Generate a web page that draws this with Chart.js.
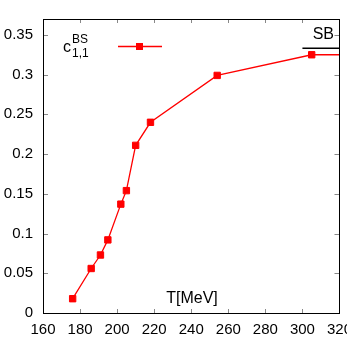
<!DOCTYPE html>
<html>
<head>
<meta charset="utf-8">
<script src="https://cdn.jsdelivr.net/npm/chart.js@4.4.1/dist/chart.umd.min.js"></script>
<style>
  html, body { margin: 0; padding: 0; background: #fff; overflow: hidden; }
  #wrap { position: relative; width: 360px; height: 347px; }
</style>
</head>
<body>
<div id="wrap"><canvas id="myChart" width="360" height="347"></canvas></div>
<script>
// c_{1,1}^{BS} vs temperature
var temps = [176, 186, 191, 195, 202, 205, 210, 218, 254, 305, 340];
var c11 = [0.018, 0.056, 0.073, 0.092, 0.137, 0.154, 0.211, 0.240, 0.299, 0.325, 0.325];
var sbTemps = [300, 320];
var sbValues = [1 / 3, 1 / 3];
var xTicks = [160, 180, 200, 220, 240, 260, 280, 300, 320];
var yTicks = [0, 0.05, 0.1, 0.15, 0.2, 0.25, 0.3, 0.35];

var font = 'Liberation Sans, Arial, sans-serif';

// frame, inward ticks on all four sides, labels
var framePlugin = {
  id: 'frame',
  afterDraw: function(chart) {
    var ctx = chart.ctx, a = chart.chartArea;
    var xs = chart.scales.x, ys = chart.scales.y;
    ctx.save();
    ctx.strokeStyle = '#888';
    ctx.lineWidth = 1;
    ctx.beginPath();
    xTicks.forEach(function(t) {
      var px = Math.round(xs.getPixelForValue(t)) + 0.5;
      ctx.moveTo(px, a.bottom); ctx.lineTo(px, a.bottom - 4);
      ctx.moveTo(px, a.top); ctx.lineTo(px, a.top + 4);
    });
    yTicks.forEach(function(t) {
      var py = Math.round(ys.getPixelForValue(t)) + 0.5;
      ctx.moveTo(a.left, py); ctx.lineTo(a.left + 5, py);
      ctx.moveTo(a.right, py); ctx.lineTo(a.right - 5, py);
    });
    ctx.stroke();

    ctx.strokeStyle = '#000';
    ctx.strokeRect(Math.round(a.left) + 0.5, Math.round(a.top) + 0.5,
      Math.round(a.right - a.left), Math.round(a.bottom - a.top));

    // legend
    ctx.fillStyle = '#000';
    ctx.textBaseline = 'alphabetic';
    ctx.textAlign = 'left';
    ctx.font = '16px ' + font;
    ctx.fillText('c', 63, 52);
    ctx.font = '12px ' + font;
    ctx.fillText('BS', 72, 43);
    ctx.fillText('1,1', 72, 57);
    ctx.strokeStyle = '#ff0000';
    ctx.lineWidth = 1.3;
    ctx.beginPath();
    ctx.moveTo(118, 46.5); ctx.lineTo(162, 46.5);
    ctx.stroke();
    ctx.fillStyle = '#ff0000';
    ctx.fillRect(136, 43, 7, 7);

    // SB label
    ctx.fillStyle = '#000';
    ctx.font = '16px ' + font;
    ctx.textAlign = 'right';
    ctx.fillText('SB', 334, 38.5);

    // axis title inside the plot
    ctx.textAlign = 'center';
    ctx.fillText('T[MeV]', 192, 303);
    ctx.restore();
  }
};

var ctx = document.getElementById('myChart').getContext('2d');
var chart = new Chart(ctx, {
  type: 'line',
  data: {
    datasets: [{
      data: temps.map(function(t, i) { return {x: t, y: c11[i]}; }),
      borderColor: '#ff0000',
      backgroundColor: '#ff0000',
      borderWidth: 1.3,
      pointStyle: 'rect',
      pointRadius: 4.5,
      pointBorderWidth: 1,
      tension: 0
    }, {
      data: sbTemps.map(function(t, i) { return {x: t, y: sbValues[i]}; }),
      borderColor: '#000',
      borderWidth: 1.5,
      pointRadius: 0
    }]
  },
  options: {
    responsive: false,
    animation: false,
    events: [],
    layout: { padding: { left: 0, right: 20, top: 16, bottom: 0 } },
    plugins: { legend: { display: false }, tooltip: { enabled: false } },
    scales: {
      x: {
        type: 'linear',
        min: 160, max: 320,
        grid: { display: false, drawTicks: false },
        border: { display: false },
        afterBuildTicks: function(s) { s.ticks = xTicks.map(function(v) { return {value: v}; }); },
        afterFit: function(s) { s.height = 34; },
        ticks: { color: '#000', font: { family: font, size: 15 }, padding: 8, maxRotation: 0, autoSkip: false }
      },
      y: {
        min: 0, max: 0.37,
        grid: { display: false, drawTicks: false },
        border: { display: false },
        afterBuildTicks: function(s) { s.ticks = yTicks.map(function(v) { return {value: v}; }); },
        afterFit: function(s) { s.width = 43; },
        ticks: { color: '#000', font: { family: font, size: 15 }, padding: 10, autoSkip: false,
          callback: function(v) { return String(+v.toFixed(2)); } }
      }
    }
  },
  plugins: [framePlugin]
});
</script>
</body>
</html>
